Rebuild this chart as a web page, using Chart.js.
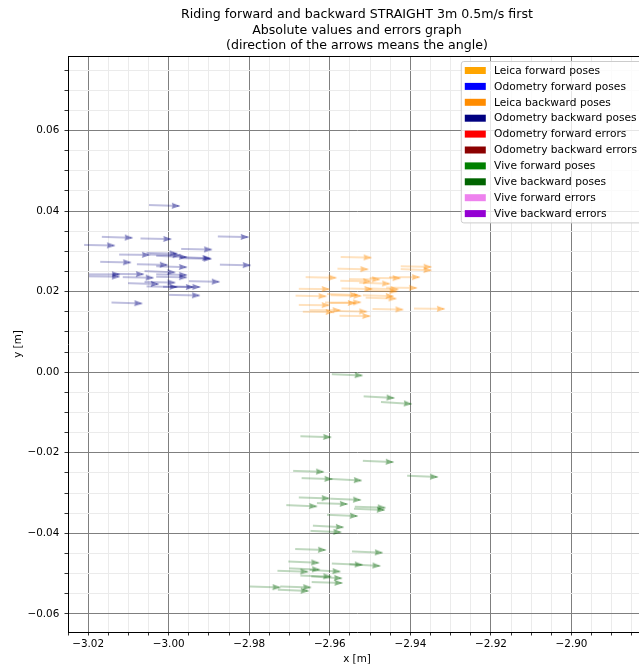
<!DOCTYPE html>
<html>
<head>
<meta charset="utf-8">
<script src="https://cdn.jsdelivr.net/npm/chart.js@4/dist/chart.umd.min.js"></script>
<style>
  html, body { margin: 0; padding: 0; overflow: hidden; background: #fff; }
  #wrap { width: 651px; height: 668px; }
  canvas { display: block; }
</style>
</head>
<body>
<div id="wrap"><canvas id="chart" width="651" height="668"></canvas></div>
<script>
// Tail positions (m) and headings (deg, counter-clockwise from +x) of each pose arrow.
const odomBackX = [-3.0049, -3.0166, -3.0070, -2.9878, -3.0210, -2.9969, -3.0123, -3.0055, -3.0047, -3.0031,
                   -2.9973, -2.9970, -3.0170, -3.0079, -3.0031, -2.9873, -3.0198, -3.0198, -3.0138, -3.0114,
                   -3.0060, -3.0031, -3.0031, -2.9950, -3.0101, -3.0060, -3.0055, -2.9998, -3.0014, -2.9999,
                   -3.0142];
const odomBackY = [0.0415, 0.0336, 0.0332, 0.0337, 0.0316, 0.0306, 0.0292, 0.0296, 0.0292, 0.0289,
                   0.0286, 0.0283, 0.0274, 0.0268, 0.0263, 0.0267, 0.0243, 0.0238, 0.0244, 0.0236,
                   0.0251, 0.0243, 0.0237, 0.0226, 0.0221, 0.0224, 0.0213, 0.0213, 0.0212, 0.0192,
                   0.0173];
const odomBackAngle = [-1.8, -1.8, -1.2, -1.2, -1.2, -1.2, -0.6, -1.2, -1.5, -2.5,
                       -2.5, -1.2, -1.2, -1.2, -1.8, -1.2, 0.0, -0.6, -0.6, -1.2,
                       -2.5, -1.2, -1.2, -1.2, -1.8, -1.2, -1.2, -1.2, -0.6, -1.2,
                       -1.8];

const leicaBackX = [-2.9573, -2.9581, -2.9424, -2.9424, -2.9660, -2.9574, -2.9552, -2.9527, -2.9501, -2.9453,
                    -2.9677, -2.9571, -2.9506, -2.9460, -2.9509, -2.9685, -2.9607, -2.9598, -2.9518, -2.9511,
                    -2.9677, -2.9612, -2.9599, -2.9667, -2.9650, -2.9584, -2.9494, -2.9391, -2.9576];
const leicaBackY = [0.0286, 0.0257, 0.0263, 0.0256, 0.0236, 0.0227, 0.0231, 0.0222, 0.0234, 0.0236,
                    0.0207, 0.0208, 0.0208, 0.0210, 0.0203, 0.0190, 0.0194, 0.0191, 0.0191, 0.0185,
                    0.0167, 0.0173, 0.0172, 0.0150, 0.0154, 0.0152, 0.0157, 0.0158, 0.0140];
const leicaBackAngle = [-1.2, -1.2, -1.2, -2.4, -1.2, -1.2, -0.6, -1.8, -0.6, 0.0,
                        -0.6, -1.2, -1.8, -0.6, -1.8, -1.2, -1.8, -1.2, -1.8, -1.8,
                        -0.6, -1.2, 1.2, -0.6, 0.0, -1.2, -1.2, -0.6, -0.6];

const viveBackX = [-2.9595, -2.9516, -2.9473, -2.9673, -2.9518, -2.9691, -2.9408, -2.9670, -2.9597, -2.9677,
                   -2.9599, -2.9708, -2.9632, -2.9538, -2.9540, -2.9607, -2.9642, -2.9648, -2.9686, -2.9545,
                   -2.9703, -2.9595, -2.9551, -2.9701, -2.9730, -2.9650, -2.9673, -2.9646, -2.9645, -2.9799,
                   -2.9723, -2.9729];
const viveBackY = [-0.0005, -0.0060, -0.0074, -0.0159, -0.0220, -0.0245, -0.0257, -0.0263, -0.0265, -0.0311,
                   -0.0314, -0.0330, -0.0325, -0.0334, -0.0339, -0.0354, -0.0381, -0.0394, -0.0439, -0.0445,
                   -0.0470, -0.0475, -0.0477, -0.0487, -0.0493, -0.0491, -0.0505, -0.0507, -0.0521, -0.0532,
                   -0.0532, -0.0540];
const viveBackAngle = [-2.4, -3.0, -3.6, -1.8, -2.4, -1.8, -2.4, -1.8, -3.0, -1.8,
                       -2.4, -2.4, -1.8, -1.8, -2.4, -2.4, -3.0, -2.4, -1.8, -2.4,
                       -2.4, -2.4, -3.0, -2.4, -1.8, -3.0, -1.8, -3.6, -1.8, -1.8,
                       -1.8, -2.4];

// Legend entries (all series of the figure).
const legendLabels = ['Leica forward poses', 'Odometry forward poses', 'Leica backward poses',
                      'Odometry backward poses', 'Odometry forward errors', 'Odometry backward errors',
                      'Vive forward poses', 'Vive backward poses', 'Vive forward errors', 'Vive backward errors'];
const legendColors = ['#FFA500', '#0000FF', '#FF8C00', '#000080', '#FF0000', '#8B0000',
                      '#008000', '#006400', '#EE82EE', '#9400D3'];

const titleLines = ['Riding forward and backward STRAIGHT 3m 0.5m/s first',
                    'Absolute values and errors graph',
                    '(direction of the arrows means the angle)'];

const X_MIN = -3.025, X_MAX = -2.8815;
const Y_MIN = -0.0645, Y_MAX = 0.0785;
const MINOR_STEP = 0.005, MAJOR_STEP = 0.02;

const FONT = "'DejaVu Sans', sans-serif";
const TICK_SIZE = 10.4;
Chart.defaults.font.family = FONT;
Chart.defaults.color = '#000';

// Quiver-style arrow sprite (thin shaft, barbed head); the canvas centre is the arrow tail.
function arrowSprite(color, alpha) {
  const L = 31.3, sw = 1.15, headL = 8.6, headIn = 7.6, headH = 3.0;
  const half = 35;
  const c = document.createElement('canvas');
  c.width = half * 2;
  c.height = 14;
  const g = c.getContext('2d');
  g.translate(half, 7);
  g.beginPath();
  g.moveTo(0, -sw / 2);
  g.lineTo(L - headIn, -sw / 2);
  g.lineTo(L - headL, -headH);
  g.lineTo(L, 0);
  g.lineTo(L - headL, headH);
  g.lineTo(L - headIn, sw / 2);
  g.lineTo(0, sw / 2);
  g.closePath();
  g.globalAlpha = alpha;
  g.fillStyle = color;
  g.fill();
  // slightly denser tip
  g.beginPath();
  g.moveTo(L - 3.2, -0.9);
  g.lineTo(L, 0);
  g.lineTo(L - 3.2, 0.9);
  g.closePath();
  g.globalAlpha = alpha * 0.6;
  g.fill();
  return c;
}

function toPoints(xs, ys) {
  return xs.map((x, i) => ({ x: x, y: ys[i] }));
}

function quiverDataset(label, xs, ys, angles, color) {
  return {
    label: label,
    data: toPoints(xs, ys),
    pointStyle: arrowSprite(color, 0.5),
    pointRotation: (ctx) => -angles[ctx.dataIndex],
    pointRadius: 4,
    showLine: false
  };
}

function isMajor(v) {
  const r = v / MAJOR_STEP;
  return Math.abs(r - Math.round(r)) < 1e-6;
}

function stepTicks(min, max) {
  const out = [];
  for (let k = Math.ceil(min / MINOR_STEP - 1e-6); k * MINOR_STEP <= max + 1e-9; k++) {
    out.push({ value: Math.round(k * MINOR_STEP * 10000) / 10000 });
  }
  return out;
}

function fmt(v) {
  if (!isMajor(v)) return '';
  const s = Math.abs(v).toFixed(2);
  return (v < -1e-9 ? '\u2212' : '') + s;
}

const gridOpts = {
  color: (ctx) => (ctx.tick && isMajor(ctx.tick.value)) ? '#7f7f7f' : '#ebebeb',
  lineWidth: 1,
  tickColor: '#000',
  tickLength: 3.5,
  tickWidth: 0.8
};

// Box around the plot (top and right spines) and the in-plot legend.
const framePlugin = {
  id: 'frame',
  beforeDatasetsDraw(chart) {
    const { ctx, chartArea: a } = chart;
    ctx.save();
    ctx.strokeStyle = '#000';
    ctx.lineWidth = 1;
    ctx.beginPath();
    ctx.moveTo(a.left, Math.round(a.top) + 0.5);
    ctx.lineTo(a.right, Math.round(a.top) + 0.5);
    ctx.moveTo(Math.round(a.right) - 0.5, a.top);
    ctx.lineTo(Math.round(a.right) - 0.5, a.bottom);
    ctx.stroke();
    ctx.restore();
  },
  afterDatasetsDraw(chart) {
    const { ctx, chartArea: a } = chart;
    ctx.save();
    ctx.font = '10.65px ' + FONT;
    const textW = Math.max(...legendLabels.map((t) => ctx.measureText(t).width));
    const rowH = 15.9, pad = 4, patchW = 21, patchH = 7, gap = 8.3;
    const boxW = pad + patchW + gap + textW + pad;
    const boxH = legendLabels.length * rowH + 2.4;
    const right = a.right - 5, top = a.top + 5;
    const left = right - boxW;
    // frame
    ctx.beginPath();
    if (ctx.roundRect) ctx.roundRect(left + 0.5, top + 0.5, boxW, boxH, 2.5);
    else ctx.rect(left + 0.5, top + 0.5, boxW, boxH);
    ctx.fillStyle = 'rgba(255,255,255,0.8)';
    ctx.fill();
    ctx.strokeStyle = '#cccccc';
    ctx.lineWidth = 1;
    ctx.stroke();
    // entries
    ctx.textBaseline = 'middle';
    ctx.textAlign = 'left';
    legendLabels.forEach((label, i) => {
      const cy = top + 9.5 + i * rowH;
      ctx.fillStyle = legendColors[i];
      ctx.fillRect(left + pad, cy - patchH / 2, patchW, patchH);
      ctx.fillStyle = '#000';
      ctx.fillText(label, left + pad + patchW + gap, cy + 0.5);
    });
    ctx.restore();
  }
};

new Chart(document.getElementById('chart'), {
  type: 'scatter',
  data: {
    datasets: [
      quiverDataset('Leica backward poses', leicaBackX, leicaBackY, leicaBackAngle, '#FF8C00'),
      quiverDataset('Odometry backward poses', odomBackX, odomBackY, odomBackAngle, '#000080'),
      quiverDataset('Vive backward poses', viveBackX, viveBackY, viveBackAngle, '#006400')
    ]
  },
  options: {
    responsive: false,
    animation: false,
    events: [],
    layout: { padding: 0 },
    plugins: {
      legend: { display: false },
      tooltip: { enabled: false },
      title: {
        display: true,
        text: titleLines,
        fullSize: false,
        color: '#000',
        font: { family: FONT, size: 12.6, weight: 'normal', lineHeight: '15.5px' },
        padding: { top: 7, bottom: 2.5 }
      }
    },
    scales: {
      x: {
        type: 'linear',
        min: X_MIN,
        max: X_MAX,
        afterBuildTicks: (s) => { s.ticks = stepTicks(X_MIN, X_MAX); },
        afterFit: (s) => { s.height = 36; },
        ticks: {
          autoSkip: false,
          maxRotation: 0,
          padding: 2.5,
          color: '#000',
          font: { size: TICK_SIZE },
          callback: (v) => fmt(v)
        },
        grid: gridOpts,
        border: { display: true, color: '#000', width: 1 },
        title: { display: true, text: 'x [m]', color: '#000', font: { size: TICK_SIZE }, padding: { top: 0, bottom: 2.5 } }
      },
      y: {
        type: 'linear',
        min: Y_MIN,
        max: Y_MAX,
        afterBuildTicks: (s) => { s.ticks = stepTicks(Y_MIN, Y_MAX); },
        afterFit: (s) => { s.width = 68; },
        ticks: {
          autoSkip: false,
          padding: 5.2,
          color: '#000',
          font: { size: TICK_SIZE },
          callback: (v) => fmt(v)
        },
        grid: gridOpts,
        border: { display: true, color: '#000', width: 1 },
        title: { display: true, text: 'y [m]', color: '#000', font: { size: TICK_SIZE }, padding: { top: 12, bottom: 0 } }
      }
    }
  },
  plugins: [framePlugin]
});
</script>
</body>
</html>
